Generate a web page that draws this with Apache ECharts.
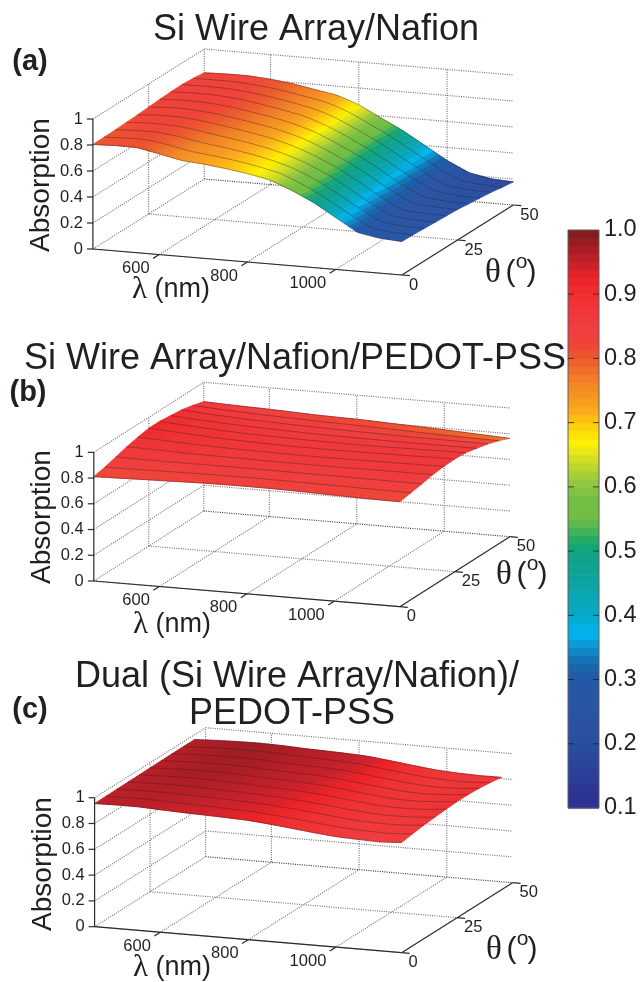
<!DOCTYPE html>
<html>
<head>
<meta charset="utf-8">
<style>html,body{margin:0;padding:0;background:#fff}#c{width:641px;height:982px;filter:blur(.4px)}</style>
<script src="https://cdn.jsdelivr.net/npm/echarts@6/dist/echarts.min.js"></script>
</head>
<body>
<div id="c"></div>
<script>
const wavelengths = [450,500,550,600,650,700,750,800,850,900,950,1000,1050,1100,1150];
const anglesFull = [0,5,10,15,20,25,30,35,40,45,50];
const anglesDual = [0,5,10,15,20,25,30,35,40,45];
const lambdaTicks = [600,800,1000];
const thetaTicks = [0,25,50];
const zTicks = [0,0.2,0.4,0.6,0.8,1];
const zTickLabels = ['0','0.2','0.4','0.6','0.8','1'];

const surfaceA = [
[.804,.810,.808,.775,.740,.725,.705,.680,.645,.580,.500,.400,.300,.270,.258],
[.806,.814,.812,.785,.752,.733,.710,.680,.640,.570,.485,.385,.290,.262,.255],
[.808,.818,.816,.795,.765,.742,.715,.680,.632,.560,.470,.370,.280,.255,.250],
[.812,.822,.820,.803,.775,.750,.720,.680,.625,.550,.460,.355,.270,.250,.245],
[.816,.828,.826,.810,.785,.757,.725,.680,.618,.540,.450,.345,.260,.245,.240],
[.822,.832,.830,.815,.790,.762,.728,.680,.612,.530,.440,.335,.255,.240,.235],
[.828,.836,.834,.820,.795,.766,.730,.678,.605,.522,.430,.325,.250,.230,.225],
[.832,.838,.835,.822,.798,.768,.732,.676,.600,.515,.420,.320,.240,.220,.215],
[.834,.836,.833,.820,.797,.767,.732,.674,.595,.510,.412,.312,.232,.210,.205],
[.828,.830,.828,.815,.794,.764,.731,.672,.590,.505,.405,.306,.226,.198,.190],
[.817,.822,.822,.810,.790,.760,.730,.670,.585,.500,.400,.300,.220,.187,.178]];

const surfaceB = [
[.811,.815,.820,.824,.828,.832,.834,.835,.834,.832,.828,.824,.820,.818,.816],
[.830,.832,.835,.838,.840,.842,.843,.843,.842,.840,.838,.836,.834,.832,.830],
[.855,.853,.852,.852,.853,.853,.853,.852,.851,.850,.850,.849,.848,.846,.845],
[.880,.876,.872,.868,.866,.864,.862,.861,.860,.860,.860,.861,.862,.862,.863],
[.900,.893,.886,.878,.874,.870,.868,.866,.865,.865,.866,.867,.869,.871,.872],
[.915,.905,.895,.885,.879,.874,.870,.868,.867,.867,.868,.870,.872,.875,.876],
[.915,.902,.892,.882,.876,.871,.867,.865,.863,.862,.862,.864,.866,.868,.870],
[.905,.893,.884,.875,.869,.864,.859,.856,.853,.851,.850,.850,.850,.850,.850],
[.895,.882,.873,.864,.858,.852,.848,.844,.840,.838,.835,.833,.832,.831,.830],
[.875,.865,.857,.849,.843,.838,.833,.829,.825,.820,.815,.810,.806,.803,.800],
[.850,.843,.838,.833,.827,.820,.816,.813,.807,.800,.795,.788,.780,.772,.764]];

const surfaceC = [
[.955,.958,.958,.950,.943,.938,.932,.925,.910,.892,.873,.857,.850,.845,.854],
[.956,.960,.961,.955,.949,.944,.938,.930,.916,.900,.881,.866,.859,.856,.868],
[.957,.962,.964,.960,.955,.950,.943,.935,.921,.906,.887,.872,.866,.866,.880],
[.958,.964,.967,.965,.960,.954,.947,.939,.926,.911,.892,.877,.871,.874,.888],
[.959,.966,.970,.969,.964,.957,.951,.943,.931,.915,.896,.880,.875,.880,.895],
[.960,.967,.972,.972,.967,.960,.954,.947,.935,.918,.899,.882,.877,.885,.900],
[.961,.968,.973,.974,.970,.962,.956,.950,.938,.920,.901,.884,.878,.885,.900],
[.962,.969,.974,.976,.972,.964,.958,.952,.941,.922,.903,.885,.877,.880,.895],
[.962,.970,.975,.977,.973,.965,.959,.953,.943,.923,.904,.885,.876,.875,.885],
[.962,.970,.975,.977,.973,.965,.960,.954,.945,.925,.905,.885,.875,.870,.871]];

const colorStops = [.1,.12,.15,.2,.253,.3,.315,.336,.354,.372,.4,.46,.5,.515,.55,.58,.61,.645,.67,.69,.72,.765,.8,.82,.85,.9,.925,.945,.97,1];
const colorHex = ['#2e3192','#2d3391','#2b3f98','#2a4ea0','#2a55a3','#2358a6','#1a62a8','#1478ba','#0a98d4','#00b7f0','#06a9c9','#0ea39a','#10a383','#1aa96c','#72bd44','#74be44','#96c83e','#d4df24','#fff200','#fdd60b','#fba91c','#f28226','#ec5a2c','#ef4537','#f03b3e','#ef2f31','#ec2227','#cc2029','#ab1c24','#7b1c1c'];
const colorbarTicks = [.1,.2,.3,.4,.5,.6,.7,.8,.9,1];

const SANS = '"Liberation Sans", Arial, sans-serif';
const SERIF = '"Liberation Serif", serif';
const INK = '#231f20';
const LMIN = 450, LMAX = 1150, TMAX = 50;

const panels = [
 {ox:92.9, oy:249,   lx:309, ly:26,   tx:111.4, ty:70, h:130,   angles:anglesFull, z:surfaceA},
 {ox:93.8, oy:581,   lx:306, ly:25.7, tx:110,   ty:70, h:128.7, angles:anglesFull, z:surfaceB},
 {ox:94.6, oy:926.7, lx:307, ly:26,   tx:111,   ty:70, h:129,   angles:anglesDual, z:surfaceC}
];

function hexRgb(h){return [1,3,5].map(i=>parseInt(h.substr(i,2),16));}
const stopRgb = colorHex.map(hexRgb);
function colorOf(v){
  v=Math.max(.1,Math.min(1,v));
  let k=0; while(k<colorStops.length-2 && v>colorStops[k+1]) k++;
  const f=(v-colorStops[k])/(colorStops[k+1]-colorStops[k]);
  const a=stopRgb[k],b=stopRgb[k+1];
  return 'rgb('+a.map((c,i)=>Math.round(c+(b[i]-c)*f)).join(',')+')';
}
function proj(p,lam,th,z){
  const a=(lam-LMIN)/(LMAX-LMIN), b=th/TMAX;
  return [a*p.lx+b*p.tx, z*p.h+b*p.ty-a*p.ly];
}

const grids=[],xAxes=[],yAxes=[],series=[];
panels.forEach((p,k)=>{
  grids.push({left:p.ox,top:p.oy-p.h-p.ty,width:p.lx+p.tx,height:p.h+p.ty+p.ly,show:false});
  xAxes.push({type:'value',gridIndex:k,min:0,max:p.lx+p.tx,show:false});
  yAxes.push({type:'value',gridIndex:k,min:-p.ly,max:p.h+p.ty,show:false});
  const base={type:'custom',coordinateSystem:'cartesian2d',xAxisIndex:k,yAxisIndex:k,silent:true,clip:false,animation:false};

  const segs=[];
  zTicks.forEach(z=>{
    segs.push([LMIN,0,z,LMIN,TMAX,z,0]);
    segs.push([LMIN,TMAX,z,LMAX,TMAX,z,z===0?1:0]);
  });
  lambdaTicks.forEach(l=>{
    segs.push([l,0,0,l,TMAX,0,0]);
    segs.push([l,TMAX,0,l,TMAX,1,0]);
  });
  thetaTicks.forEach(t=>{
    if(t<TMAX) segs.push([LMIN,t,0,LMAX,t,0,0]);
    if(t>0) segs.push([LMIN,t,0,LMIN,t,1,0]);
  });
  series.push(Object.assign({},base,{
    data:segs,
    renderItem:(pa,api)=>{
      const a=api.coord(proj(p,api.value(0),api.value(1),api.value(2)));
      const b=api.coord(proj(p,api.value(3),api.value(4),api.value(5)));
      const dark=api.value(6);
      return {type:'line',shape:{x1:a[0],y1:a[1],x2:b[0],y2:b[1]},
        style:{stroke:dark?'#333':'#707070',lineWidth:1.15,lineDash:[1,1.3],fill:null}};
    }
  }));

  const cells=[];
  for(let j=p.angles.length-2;j>=0;j--) for(let i=0;i<wavelengths.length-1;i++) cells.push([i,j]);
  const NU=5;
  series.push(Object.assign({},base,{
    data:cells,
    renderItem:(pa,api)=>{
      const i=api.value(0),j=api.value(1);
      const l0=wavelengths[i],l1=wavelengths[i+1],t0=p.angles[j],t1=p.angles[j+1];
      const z00=p.z[j][i],z10=p.z[j][i+1],z01=p.z[j+1][i],z11=p.z[j+1][i+1];
      const at=(u,v)=>{
        const z=z00*(1-u)*(1-v)+z10*u*(1-v)+z01*(1-u)*v+z11*u*v;
        return {z,pt:api.coord(proj(p,l0+(l1-l0)*u,t0+(t1-t0)*v,z))};
      };
      const children=[];
      for(let ui=0;ui<NU;ui++){
        const u=ui/NU,du=1/NU;
        const c=colorOf(at(u+du/2,.5).z);
        children.push({type:'polygon',shape:{points:[at(u,0).pt,at(u+du,0).pt,at(u+du,1).pt,at(u,1).pt]},
          style:{fill:c,stroke:c,lineWidth:.8}});
      }
      return {type:'group',children};
    }
  }));

  series.push(Object.assign({},base,{
    data:p.angles.map((t,j)=>[j,t]),
    renderItem:(pa,api)=>{
      const j=api.value(0),t=api.value(1);
      const pts=wavelengths.map((l,i)=>api.coord(proj(p,l,t,p.z[j][i])));
      return {type:'polyline',shape:{points:pts,smooth:.25},
        style:{stroke:'rgba(45,30,30,.5)',lineWidth:.75,fill:null}};
    }
  }));

  series.push(Object.assign({},base,{
    data:[[0]],
    renderItem:(pa,api)=>{
      const C=(l,t,z)=>api.coord(proj(p,l,t,z));
      const ln=(a,b,w)=>({type:'line',shape:{x1:a[0],y1:a[1],x2:b[0],y2:b[1]},style:{stroke:'#2a2a2a',lineWidth:w||1.2}});
      const tx=(x,y,text,al)=>({type:'text',style:{x,y,text,textAlign:al,textVerticalAlign:'middle',textBaseline:'middle',fontSize:16.5,fontFamily:SANS,fill:INK}});
      const ch=[];
      const o=C(LMIN,0,0),r=C(LMAX,0,0),b=C(LMAX,TMAX,0);
      ch.push(ln(o,C(LMIN,0,1)),ln(o,r),ln(r,b));
      zTicks.forEach((z,i)=>{
        const q=C(LMIN,0,z);
        ch.push(ln([q[0]-6,q[1]],q));
        ch.push(tx(q[0]-10,q[1],zTickLabels[i],'right'));
      });
      lambdaTicks.forEach(l=>{
        const q=C(l,0,0);
        ch.push(ln(q,[q[0]-6,q[1]+3.8]));
        ch.push(tx(q[0]-9.5,q[1]+14,String(l),'right'));
      });
      thetaTicks.forEach(t=>{
        const q=C(LMAX,t,0);
        ch.push(ln(q,[q[0]+8,q[1]+.7]));
        ch.push(tx(q[0]+7,q[1]+10,String(t),'left'));
      });
      return {type:'group',children:ch};
    }
  }));
});

const barIdx=panels.length;
const barLevels=[]; for(let i=0;i<72;i++) barLevels.push(i);
grids.push({left:568,top:230,width:31,height:578,show:false});
xAxes.push({type:'value',gridIndex:barIdx,min:0,max:1,show:false});
yAxes.push({type:'value',gridIndex:barIdx,min:.1,max:1,interval:.1,position:'right',splitLine:{show:false},axisLine:{show:false},axisTick:{show:false},
  axisLabel:{show:true,fontSize:23.5,fontFamily:SANS,color:INK,margin:5,showMinLabel:true,showMaxLabel:true,formatter:v=>v.toFixed(1)}});
const barBase={type:'custom',coordinateSystem:'cartesian2d',xAxisIndex:barIdx,yAxisIndex:barIdx,silent:true,animation:false,clip:false};
series.push(Object.assign({},barBase,{
  data:barLevels.map(i=>[i]),
  renderItem:(pa,api)=>{
    const i=api.value(0),n=barLevels.length,v0=.1+.9*i/n,v1=.1+.9*(i+1)/n;
    const a=api.coord([0,v1]),b=api.coord([1,v0]);
    return {type:'rect',shape:{x:a[0],y:a[1],width:b[0]-a[0],height:b[1]-a[1]+.6},style:{fill:colorOf((v0+v1)/2)}};
  }}));
series.push(Object.assign({},barBase,{
  data:[[0]],
  renderItem:(pa,api)=>{
    const a=api.coord([0,1]),b=api.coord([1,.1]);
    const ch=[{type:'rect',shape:{x:a[0],y:a[1],width:b[0]-a[0],height:b[1]-a[1]},style:{fill:null,stroke:'#5f5f5f',lineWidth:1}}];
    colorbarTicks.slice(1,-1).forEach(v=>{
      const q=api.coord([0,v]),r=api.coord([1,v]);
      ch.push({type:'line',shape:{x1:q[0],y1:q[1],x2:q[0]+6,y2:q[1]},style:{stroke:'rgba(30,30,30,.75)',lineWidth:1}});
      ch.push({type:'line',shape:{x1:r[0]-6,y1:r[1],x2:r[0],y2:r[1]},style:{stroke:'rgba(30,30,30,.75)',lineWidth:1}});
    });
    return {type:'group',children:ch};
  }}));

const T=(x,y,text,size,extra)=>Object.assign({type:'text',x,y,z:10,silent:true,
  style:Object.assign({text,fontSize:size,fontFamily:SANS,fill:INK,textAlign:'center',textVerticalAlign:'middle',textBaseline:'middle'},(extra&&extra.style)||{})},
  extra&&extra.rotation?{rotation:extra.rotation}:{});
const B={style:{fontWeight:'bold'}};
const greek={L:{fontFamily:SERIF,fontSize:31,fill:INK},P:{fontFamily:SANS,fontSize:27,fill:INK}};
const lam=(x,y)=>T(x,y,'{L|λ}{P| (nm)}',27,{style:{rich:greek}});
const the=(x,y)=>[
  T(x-17,y,'θ',33,{style:{fontFamily:SERIF}}),
  T(x+0.5,y,'(',30),
  T(x+11.5,y-11,'o',21),
  T(x+21.5,y,')',30)
];
const V={rotation:Math.PI/2};
const graphics=[
 T(316,30,'Si Wire Array/Nafion',36),
 T(295,359,'Si Wire Array/Nafion/PEDOT-PSS',36),
 T(297,677,'Dual (Si Wire Array/Nafion)/',36),
 T(292,714,'PEDOT-PSS',36),
 T(30,62,'(a)',29,B), T(28,393,'(b)',29,B), T(30,710,'(c)',29,B),
 T(41,185,'Absorption',28,V), T(42,517,'Absorption',28,V), T(43,864,'Absorption',28,V),
 lam(171,290), lam(172,625), lam(172,968)
].concat(the(510,273), the(521,575), the(511,950));

const chart=echarts.init(document.getElementById('c'),null,{renderer:'canvas'});
chart.setOption({animation:false,backgroundColor:'#fff',grid:grids,xAxis:xAxes,yAxis:yAxes,series,graphic:graphics});
</script>
</body>
</html>
